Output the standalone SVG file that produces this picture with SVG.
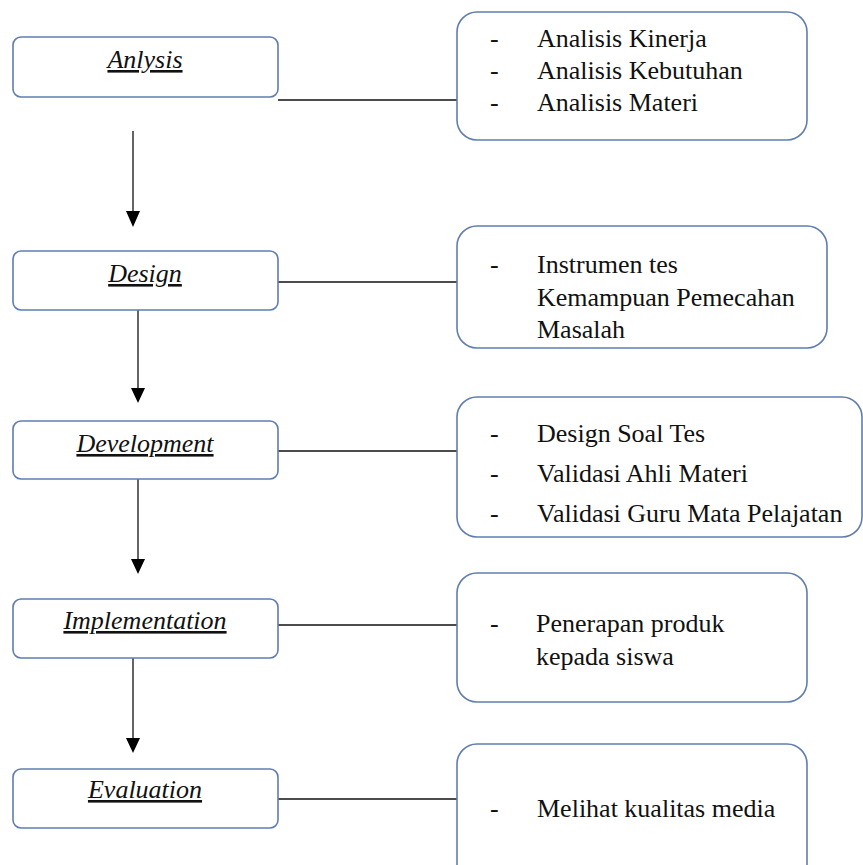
<svg xmlns="http://www.w3.org/2000/svg" width="863" height="865" viewBox="0 0 863 865">
<style>
.lbox{fill:#fff;stroke:#5f7db1;stroke-width:1.6}
.rbox{fill:#fff;stroke:#5f7db1;stroke-width:1.6}
.lab{font-family:"Liberation Serif","Times New Roman",serif;font-size:26px;font-style:italic;text-decoration:underline;text-anchor:middle;fill:#111}
.t{font-family:"Liberation Serif","Times New Roman",serif;font-size:26px;fill:#111}
.ln{stroke:#111;stroke-width:1.3;fill:none}
.ah{fill:#000}
</style>
<rect width="863" height="865" fill="#fff"/>
<g id="connectors">
<line class="ln" x1="278" y1="100" x2="457" y2="100"/>
<line class="ln" x1="278" y1="282" x2="457" y2="282"/>
<line class="ln" x1="278" y1="451" x2="457" y2="451"/>
<line class="ln" x1="278" y1="625" x2="457" y2="625"/>
<line class="ln" x1="278" y1="799" x2="457" y2="799"/>
<line class="ln" x1="133" y1="131" x2="133" y2="213"/>
<polygon class="ah" points="126,211 140,211 133,227"/>
<line class="ln" x1="138" y1="310" x2="138" y2="390"/>
<polygon class="ah" points="131,388 145,388 138,403"/>
<line class="ln" x1="138" y1="479" x2="138" y2="561"/>
<polygon class="ah" points="131,559 145,559 138,574"/>
<line class="ln" x1="133" y1="658" x2="133" y2="740"/>
<polygon class="ah" points="126,738 140,738 133,753"/>
</g>
<g id="analysis">
<rect class="lbox" x="13" y="37" width="265" height="60" rx="8"/>
<text class="lab" x="145" y="68">Anlysis</text>
</g>
<g id="design">
<rect class="lbox" x="13" y="251" width="265" height="59" rx="8"/>
<text class="lab" x="145" y="282">Design</text>
</g>
<g id="development">
<rect class="lbox" x="13" y="421" width="265" height="58" rx="8"/>
<text class="lab" x="145" y="452">Development</text>
</g>
<g id="implementation">
<rect class="lbox" x="13" y="599" width="265" height="59" rx="8"/>
<text class="lab" x="145" y="629">Implementation</text>
</g>
<g id="evaluation">
<rect class="lbox" x="13" y="769" width="265" height="59" rx="8"/>
<text class="lab" x="145" y="798">Evaluation</text>
</g>
<g id="analysis-items">
<rect class="rbox" x="457" y="12" width="350" height="128" rx="20"/>
<text class="t" x="490" y="47">-</text><text class="t" x="537" y="47">Analisis Kinerja</text>
<text class="t" x="490" y="79">-</text><text class="t" x="537" y="79">Analisis Kebutuhan</text>
<text class="t" x="490" y="111">-</text><text class="t" x="537" y="111">Analisis Materi</text>
</g>
<g id="design-items">
<rect class="rbox" x="457" y="226" width="370" height="122" rx="20"/>
<text class="t" x="490" y="273">-</text><text class="t" x="537" y="273">Instrumen tes</text>
<text class="t" x="537" y="306">Kemampuan Pemecahan</text>
<text class="t" x="537" y="338">Masalah</text>
</g>
<g id="development-items">
<rect class="rbox" x="457" y="397" width="405" height="140" rx="20"/>
<text class="t" x="490" y="442">-</text><text class="t" x="537" y="442">Design Soal Tes</text>
<text class="t" x="490" y="482">-</text><text class="t" x="537" y="482">Validasi Ahli Materi</text>
<text class="t" x="490" y="522">-</text><text class="t" x="537" y="522">Validasi Guru Mata Pelajatan</text>
</g>
<g id="implementation-items">
<rect class="rbox" x="457" y="573" width="350" height="129" rx="20"/>
<text class="t" x="490" y="632">-</text><text class="t" x="536" y="632">Penerapan produk</text>
<text class="t" x="536" y="665">kepada siswa</text>
</g>
<g id="evaluation-items">
<rect class="rbox" x="457" y="744" width="350" height="140" rx="20"/>
<text class="t" x="490" y="817">-</text><text class="t" x="537" y="817">Melihat kualitas media</text>
</g>
</svg>
